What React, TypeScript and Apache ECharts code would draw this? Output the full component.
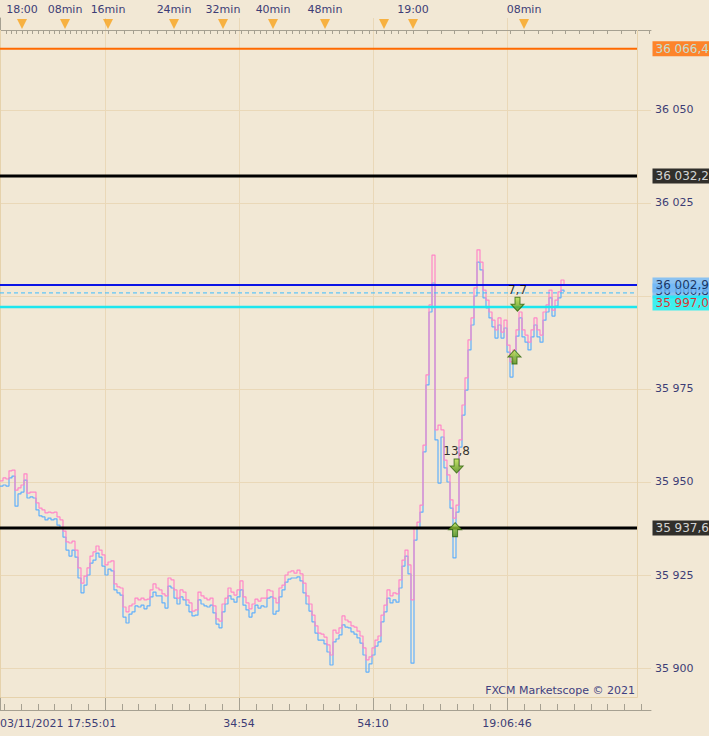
import React, { useEffect, useRef } from 'react';
import * as echarts from 'echarts';

// Tick-by-tick prices (one sample per tick index)
const ASK = [
  35950.3, 35951.1, 35950.8, 35953.0, 35953.2, 35947.8, 35948.4, 35949.2, 35952.2, 35947.0,
  35947.3, 35947.3, 35944.4, 35943.0, 35942.5, 35941.7, 35941.9, 35941.7, 35941.9, 35940.6,
  35939.8, 35936.8, 35933.9, 35933.6, 35934.1, 35931.7, 35926.9, 35922.8, 35924.7, 35926.9,
  35930.1, 35931.2, 35932.8, 35931.7, 35930.4, 35927.7, 35928.5, 35928.8, 35922.6, 35921.8,
  35921.5, 35916.4, 35915.1, 35916.7, 35917.2, 35918.8, 35918.3, 35918.8, 35918.3, 35918.5,
  35921.0, 35922.6, 35921.5, 35921.0, 35919.9, 35919.4, 35924.2, 35923.7, 35921.0, 35918.8,
  35921.0, 35920.4, 35918.3, 35917.5, 35915.3, 35915.6, 35920.4, 35919.4, 35918.8, 35918.3,
  35918.8, 35916.7, 35913.2, 35912.6, 35917.2, 35918.8, 35921.5, 35920.4, 35919.6, 35921.0,
  35923.4, 35919.1, 35917.5, 35915.9, 35917.2, 35918.5, 35918.0, 35918.8, 35918.8, 35921.0,
  35920.7, 35918.8, 35917.5, 35921.5, 35922.3, 35925.0, 35925.8, 35926.1, 35925.5, 35926.3,
  35925.3, 35922.8, 35919.4, 35917.2, 35914.2, 35911.3, 35909.4, 35909.1, 35908.3, 35906.2,
  35903.5, 35910.2, 35909.4, 35910.8, 35914.0, 35912.9, 35912.4, 35911.3, 35911.0, 35909.9,
  35908.6, 35905.4, 35902.2, 35903.0, 35905.4, 35907.5, 35908.6, 35914.2, 35916.9, 35921.0,
  35919.4, 35920.2, 35919.9, 35923.7, 35929.0, 35931.7, 35927.7, 35918.3, 35937.6, 35939.2,
  35943.8, 35959.9, 35978.8, 35997.6, 36011.0, 35964.0, 35965.3, 35964.0, 35955.9, 35951.9,
  35945.2, 35940.3, 35943.8, 35961.3, 35970.7, 35978.0, 35988.2, 35994.1, 36002.2, 36012.4,
  36009.1, 36001.6, 35998.9, 35995.7, 35993.5, 35990.9, 35994.1, 35990.3, 35993.5, 35986.8,
  35982.3, 35985.5, 35990.9, 35995.7, 35990.9, 35989.5, 35987.6, 35990.9, 35994.1, 35990.9,
  35989.5, 35995.7, 35997.6, 36001.6, 35996.2, 35998.9, 36001.1, 36004.3, 36002.7,
];

const BID = [
  35948.9, 35949.2, 35948.9, 35951.1, 35951.6, 35943.5, 35946.8, 35947.3, 35950.5, 35945.7,
  35946.0, 35945.7, 35942.5, 35940.9, 35940.6, 35939.8, 35940.3, 35939.8, 35940.1, 35938.4,
  35937.6, 35935.2, 35931.7, 35930.1, 35931.7, 35929.8, 35924.2, 35920.2, 35922.3, 35925.0,
  35928.2, 35929.0, 35930.9, 35929.8, 35927.4, 35925.0, 35926.6, 35926.1, 35921.0, 35920.2,
  35919.6, 35913.7, 35912.1, 35914.5, 35915.1, 35916.7, 35916.4, 35916.9, 35915.9, 35916.7,
  35919.1, 35920.4, 35919.4, 35919.4, 35917.5, 35916.1, 35922.0, 35921.5, 35918.8, 35917.2,
  35919.1, 35918.3, 35916.9, 35915.1, 35914.0, 35914.2, 35918.3, 35917.2, 35916.7, 35916.4,
  35916.9, 35914.8, 35911.8, 35910.8, 35915.1, 35917.2, 35919.4, 35918.5, 35917.7, 35919.1,
  35921.0, 35916.9, 35915.6, 35913.7, 35914.8, 35916.9, 35916.1, 35916.7, 35916.4, 35918.8,
  35919.1, 35914.5, 35915.3, 35919.1, 35921.0, 35923.1, 35923.9, 35924.2, 35924.2, 35924.5,
  35923.4, 35920.2, 35917.2, 35915.3, 35912.4, 35909.4, 35907.5, 35907.5, 35906.5, 35904.3,
  35900.8, 35907.0, 35907.8, 35908.9, 35911.6, 35911.0, 35910.8, 35909.7, 35909.1, 35908.1,
  35906.7, 35903.5, 35898.9, 35901.1, 35903.5, 35905.9, 35907.0, 35912.4, 35915.1, 35918.8,
  35917.5, 35918.3, 35917.7, 35921.5, 35927.4, 35930.1, 35925.3, 35901.3, 35934.4, 35937.6,
  35941.9, 35958.1, 35976.1, 35995.7, 36003.5, 35961.3, 35949.7, 35962.1, 35953.8, 35950.0,
  35943.0, 35929.6, 35941.9, 35959.4, 35968.0, 35974.7, 35985.5, 35992.2, 36000.0, 36009.1,
  36007.0, 35999.5, 35996.8, 35994.1, 35991.7, 35988.7, 35992.2, 35988.7, 35991.4, 35984.9,
  35978.2, 35983.6, 35989.2, 35994.1, 35989.0, 35987.6, 35985.5, 35989.0, 35992.2, 35989.0,
  35987.6, 35993.5, 35995.7, 35999.5, 35994.6, 35997.3, 35999.5, 36001.6, 36001.1,
];

// Horizontal price levels
const LEVEL_PRICES = [36066.45, 36032.25, 36000.83, 35997.04, 36002.93, 35937.61];

// Price axis
const Y_MAJOR_TICKS = [35900, 35925, 35950, 35975, 36000, 36025, 36050];
const Y_LABELED_TICKS = [35900, 35925, 35950, 35975, 36025, 36050];

// Bottom time axis (tick index -> time)
const BOTTOM_TICK_INDEX = [35, 79.67, 124.33, 169];
const BOTTOM_LABEL_INDEX = [79.67, 124.33, 169];
const BOTTOM_LABELS = ['34:54', '54:10', '19:06:46'];
const BOTTOM_FIRST_LABEL = '03/11/2021 17:55:01';

// Top time axis
const TOP_MINUTES = [0, 8, 16, 24, 32, 40, 48, 56, 60, 68];
const TOP_INDEX = [7.33, 21.67, 36, 58, 74.33, 91, 108.33, 128, 137.67, 174.67];
const TOP_LABELS = ['18:00', '08min', '16min', '24min', '32min', '40min', '48min', '', '19:00', '08min'];

// Trades
const TRADE_INDEX = [172.5, 171.5, 152.2, 151.7];
const TRADE_PRICE = [35997.8, 35983.6, 35954.3, 35937.2];
const TRADE_SIDE = ['down', 'up', 'down', 'up'];
const TRADE_PL = ['7,7', '', '13,8', ''];

// ---------- layout / style ----------
const W = 709;
const H = 736;
const GRID_LEFT = 0;
const GRID_RIGHT = 58;
const GRID_TOP = 18;
const GRID_BOTTOM = 26;
const PX_PER_TICK = 3;
const X_MAX = (W - GRID_LEFT - GRID_RIGHT) / PX_PER_TICK;
const LINE_END = 637 / PX_PER_TICK;
const Y_MAX = 36074.73;
const Y_MIN = 35888.71;

const BG = '#f2e8d5';
const GRIDLINE = '#ead8b8';
const AXIS = '#a6a091';
const LABEL = '#3d3d75';
const FONT = 'DejaVu Sans';

const LEVEL_STYLES: Record<string, any> = {
  '36066.45': { color: '#ff6a00', width: 2, type: 'solid', tagBg: '#ff6a00', tagFg: '#b4f6ff', off: 0 },
  '36032.25': { color: '#000000', width: 3, type: 'solid', tagBg: '#000000', tagFg: '#ffffff', off: 0 },
  '36002.93': { color: '#0a14e6', width: 2, type: 'solid', tagBg: '#70b8f8', tagFg: '#001040', off: 0 },
  '36000.83': { color: '#3cbcff', width: 1, type: [4, 3], tagBg: '#70b8f8', tagFg: '#001040', off: -2 },
  '35997.04': { color: '#1de6ee', width: 2.5, type: 'solid', tagBg: '#12f0f4', tagFg: '#ff0000', off: -4 },
  '35937.61': { color: '#000000', width: 3, type: 'solid', tagBg: '#000000', tagFg: '#ffffff', off: 0 },
};

function fmt(v: number, d: number): string {
  const s = v.toFixed(d);
  const [i, dec] = s.split('.');
  const g = i.replace(/\B(?=(\d{3})+(?!\d))/g, ' ');
  return dec ? g + ',' + dec : g;
}

function near(arr: number[], v: number): number {
  for (let k = 0; k < arr.length; k++) if (Math.abs(arr[k] - v) < 1e-6) return k;
  return -1;
}

const DOWN_ARROW = 'path://M4,0L9,0L9,7L13,7L6.5,14L0,7L4,7Z';
const UP_ARROW = 'path://M6.5,0L13,7L9,7L9,14L4,14L4,7L0,7Z';

export default function App() {
  const ref = useRef<HTMLDivElement>(null);

  useEffect(() => {
    if (!ref.current) return;
    const chart = echarts.init(ref.current, undefined, { renderer: 'svg' });

    // minor ticks (layout helpers)
    const bottomStep = (BOTTOM_TICK_INDEX[1] - BOTTOM_TICK_INDEX[0]) / 8;
    const bottomMinor: number[] = [];
    for (let v = BOTTOM_TICK_INDEX[0] - 6 * bottomStep; v <= X_MAX; v += bottomStep) bottomMinor.push(v);

    const yMinor: number[] = [];
    for (let v = 35890; v <= 36075; v += 2.5) yMinor.push(v);

    const topMinor: number[] = [];
    {
      const s0 = (TOP_INDEX[1] - TOP_INDEX[0]) / (TOP_MINUTES[1] - TOP_MINUTES[0]);
      for (let m = -4; m < 0; m++) topMinor.push(TOP_INDEX[0] + m * s0);
      for (let k = 0; k < TOP_INDEX.length - 1; k++) {
        const dm = TOP_MINUTES[k + 1] - TOP_MINUTES[k];
        for (let m = 0; m < dm; m++) topMinor.push(TOP_INDEX[k] + (m * (TOP_INDEX[k + 1] - TOP_INDEX[k])) / dm);
      }
      const n = TOP_INDEX.length;
      const sl = (TOP_INDEX[n - 1] - TOP_INDEX[n - 2]) / (TOP_MINUTES[n - 1] - TOP_MINUTES[n - 2]);
      for (let v = TOP_INDEX[n - 1]; v <= X_MAX; v += sl) topMinor.push(v);
    }

    const tickText = { color: LABEL, fontFamily: FONT, fontSize: 11 };

    const levelSeries = LEVEL_PRICES.map((p) => {
      const st = LEVEL_STYLES[p.toFixed(2)];
      return {
        type: 'line',
        xAxisIndex: 0,
        yAxisIndex: 0,
        data: [[0, p], [LINE_END, p]],
        symbol: 'none',
        silent: true,
        z: 5,
        lineStyle: { color: st.color, width: st.width, type: st.type },
      };
    });

    const tagData = LEVEL_PRICES.map((p) => {
      const st = LEVEL_STYLES[p.toFixed(2)];
      return {
        value: [X_MAX, p],
        label: {
          show: true,
          position: 'right',
          distance: 1,
          offset: [0, st.off],
          formatter: fmt(p, 2),
          backgroundColor: st.tagBg,
          color: st.tagFg,
          fontFamily: FONT,
          fontSize: 12,
          lineHeight: 13,
          padding: [1, 4, 1, 3],
        },
      };
    });

    const gradient = new echarts.graphic.LinearGradient(0, 0, 0, 1, [
      { offset: 0, color: '#b9e24c' },
      { offset: 1, color: '#4c8c12' },
    ]);

    const tradeData = TRADE_INDEX.map((x, k) => ({
      value: [x, TRADE_PRICE[k]],
      symbol: TRADE_SIDE[k] === 'down' ? DOWN_ARROW : UP_ARROW,
      label: {
        show: TRADE_PL[k] !== '',
        formatter: TRADE_PL[k],
        position: 'top',
        distance: 1,
        color: '#000000',
        fontFamily: FONT,
        fontSize: 12,
      },
    }));

    const option: any = {
      animation: false,
      backgroundColor: BG,
      grid: [
        { left: GRID_LEFT, right: GRID_RIGHT, top: GRID_TOP, bottom: GRID_BOTTOM, containLabel: false, outerBoundsMode: 'none' },
        { left: GRID_LEFT, right: GRID_RIGHT, top: GRID_TOP, height: 12, containLabel: false, outerBoundsMode: 'none' },
      ],
      xAxis: [
        {
          gridIndex: 0,
          type: 'value',
          position: 'bottom',
          min: 0,
          max: X_MAX,
          axisLine: { show: true, lineStyle: { color: AXIS, width: 1 } },
          axisTick: { show: true, inside: true, length: 13, customValues: BOTTOM_TICK_INDEX, lineStyle: { color: AXIS } },
          axisLabel: {
            show: true,
            customValues: BOTTOM_LABEL_INDEX,
            margin: 8,
            ...tickText,
            formatter: (v: number) => {
              const k = near(BOTTOM_LABEL_INDEX, v);
              return k >= 0 ? BOTTOM_LABELS[k] : '';
            },
          },
          splitLine: { show: true, lineStyle: { color: GRIDLINE, width: 1 } },
        },
        {
          gridIndex: 0,
          type: 'value',
          position: 'bottom',
          min: 0,
          max: X_MAX,
          axisLine: { show: false },
          axisTick: { show: true, inside: true, length: 6, customValues: bottomMinor, lineStyle: { color: AXIS } },
          axisLabel: {
            show: true,
            customValues: [0],
            margin: 8,
            align: 'left',
            ...tickText,
            formatter: () => BOTTOM_FIRST_LABEL,
          },
          splitLine: { show: false },
        },
        {
          gridIndex: 1,
          type: 'value',
          position: 'top',
          min: 0,
          max: X_MAX,
          axisLine: { show: true, lineStyle: { color: AXIS, width: 1 } },
          axisTick: { show: true, inside: true, length: 4, customValues: topMinor, lineStyle: { color: AXIS } },
          axisLabel: {
            show: true,
            customValues: TOP_INDEX,
            margin: 3,
            ...tickText,
            formatter: (v: number) => {
              const k = near(TOP_INDEX, v);
              return k >= 0 ? TOP_LABELS[k] : '';
            },
          },
          splitLine: { show: false },
        },
      ],
      yAxis: [
        {
          gridIndex: 0,
          type: 'value',
          position: 'right',
          min: Y_MIN,
          max: Y_MAX,
          axisLine: { show: true, lineStyle: { color: AXIS, width: 1 } },
          axisTick: { show: true, inside: true, length: 14, customValues: Y_MAJOR_TICKS, lineStyle: { color: AXIS } },
          axisLabel: {
            show: true,
            customValues: Y_LABELED_TICKS,
            margin: 4,
            ...tickText,
            formatter: (v: number) => fmt(v, 0),
          },
          splitLine: { show: true, lineStyle: { color: GRIDLINE, width: 1 } },
        },
        {
          gridIndex: 0,
          type: 'value',
          position: 'right',
          min: Y_MIN,
          max: Y_MAX,
          axisLine: { show: false },
          axisTick: { show: true, inside: true, length: 5, customValues: yMinor, lineStyle: { color: AXIS } },
          axisLabel: { show: false },
          splitLine: { show: false },
        },
        {
          gridIndex: 1,
          type: 'value',
          min: 0,
          max: 1,
          show: false,
        },
      ],
      graphic: [
        {
          type: 'polyline',
          silent: true,
          z: 1,
          shape: { points: [[0.5, 30], [0.5, 697.5], [637.5, 697.5], [637.5, 30]] },
          style: { fill: 'none', stroke: '#e6d2ac', lineWidth: 1 },
        },
        {
          type: 'text',
          silent: true,
          z: 20,
          x: 635,
          y: 690,
          style: {
            text: 'FXCM Marketscope © 2021',
            fill: '#404080',
            font: `11px "${FONT}"`,
            align: 'right',
            verticalAlign: 'middle',
          },
        },
      ],
      series: [
        {
          name: 'Bid',
          type: 'line',
          xAxisIndex: 0,
          yAxisIndex: 0,
          step: 'end',
          symbol: 'none',
          silent: true,
          z: 2,
          data: BID.map((v, i) => [i, v]),
          lineStyle: { color: '#62b0fb', width: 1.2 },
        },
        {
          name: 'Ask',
          type: 'line',
          xAxisIndex: 0,
          yAxisIndex: 0,
          step: 'end',
          symbol: 'none',
          silent: true,
          z: 3,
          data: ASK.map((v, i) => [i, v]),
          lineStyle: { color: '#ff86c8', width: 1.2 },
        },
        ...levelSeries,
        {
          type: 'scatter',
          xAxisIndex: 0,
          yAxisIndex: 0,
          clip: false,
          silent: true,
          z: 10,
          symbolSize: 1,
          itemStyle: { color: 'rgba(0,0,0,0)' },
          data: tagData,
        },
        {
          type: 'scatter',
          xAxisIndex: 0,
          yAxisIndex: 0,
          silent: true,
          z: 12,
          symbolSize: [13, 14],
          itemStyle: { color: gradient, borderColor: '#2f640a', borderWidth: 1 },
          data: tradeData,
        },
        {
          type: 'scatter',
          xAxisIndex: 2,
          yAxisIndex: 2,
          silent: true,
          clip: false,
          z: 6,
          symbol: 'triangle',
          symbolRotate: 180,
          symbolSize: [10, 10],
          itemStyle: { color: '#f7a21b' },
          data: TOP_INDEX.map((x) => [x, 0.5]),
        },
      ],
    };

    chart.setOption(option);
    return () => chart.dispose();
  }, []);

  return (
    <div
      ref={ref}
      style={{ position: 'fixed', left: 0, top: 0, width: W, height: H }}
    />
  );
}
